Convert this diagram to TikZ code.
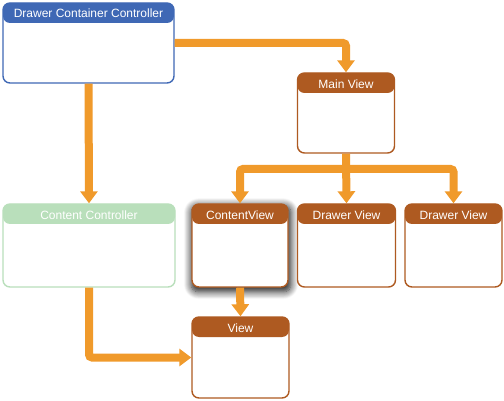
\documentclass[tikz,border=0pt]{standalone}
\usepackage{fontspec}
\setmainfont{Liberation Sans}
\usetikzlibrary{arrows.meta,shadows.blur}
\definecolor{hblue}{HTML}{3F68B5}
\definecolor{hbrown}{HTML}{AE5A21}
\definecolor{hgreen}{HTML}{B9DFBB}
\definecolor{aorange}{HTML}{F09A2B}
\tikzset{
  box/.style={draw=#1, line width=1.4pt, fill=white, rounded corners=7pt,
    minimum height=80pt, inner sep=0pt,
    path picture={\fill[#1] (path picture bounding box.north west) rectangle ([yshift=-20pt]path picture bounding box.north east);}},
  hdr/.style={text=white, font=\fontsize{12}{14}\selectfont, inner sep=0pt, anchor=center},
  conn/.style={draw=aorange, line width=8pt, rounded corners=3pt,
    -{Triangle[length=12pt,width=17pt]}},
  plain/.style={draw=aorange, line width=8pt, rounded corners=3pt},
}
\begin{document}
\begin{tikzpicture}[x=1pt,y=-1pt]
\useasboundingbox (0,0) rectangle (504,401);
% boxes
\node[box=hblue, minimum width=171pt] (dcc) at (88.5,43) {};
\node[hdr] (dcct) at (88.5,13.5) {Drawer Container Controller};
\node[box=hbrown, minimum width=97pt] (mv) at (346,113) {};
\node[hdr] (mvt) at (346,84) {Main View};
\node[box=hgreen, minimum width=172pt, minimum height=83pt] (cc) at (89,245.5) {};
\node[hdr] (cct) at (89,215) {Content Controller};
\node[box=hbrown, minimum width=96pt, minimum height=83pt,
  blur shadow={shadow xshift=1pt, shadow yshift=-3pt, shadow scale=1.04, shadow blur radius=7pt, shadow blur steps=10, shadow opacity=90}] (cv) at (240,245.5) {};
\node[hdr] (cvt) at (240,215) {ContentView};
\node[box=hbrown, minimum width=98pt, minimum height=83pt] (dv1) at (346.5,245.5) {};
\node[hdr] (dv1t) at (346.5,215) {Drawer View};
\node[box=hbrown, minimum width=97pt, minimum height=83pt] (dv2) at (453.5,245.5) {};
\node[hdr] (dv2t) at (453.5,215) {Drawer View};
\node[box=hbrown, minimum width=97pt, minimum height=81pt] (v) at (240.5,357.5) {};
\node[hdr] (vt) at (240.5,328) {View};
% connectors
\draw[conn] (dcc.east) -| (mv.north);
\draw[conn] (dcc.south) -- (cc.north);
\coordinate (split) at (346,169);
\draw[plain] (mv.south) -- (split);
\draw[conn] (split) -| (cv.north);
\draw[conn] (mv.south) -- (dv1.north);
\draw[conn] (split) -| (dv2.north);
\draw[conn] (cv.south) -- (v.north);
\draw[conn] (cc.south) |- (v.west);
\end{tikzpicture}
\end{document}
